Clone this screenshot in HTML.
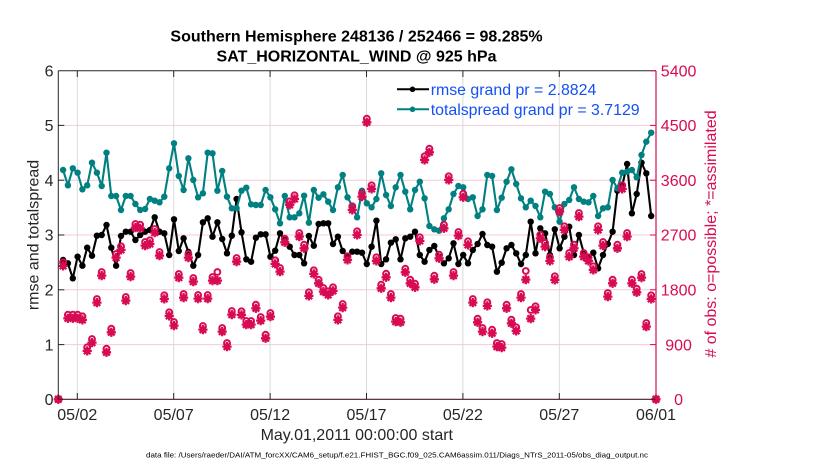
<!DOCTYPE html>
<html>
<head>
<meta charset="utf-8">
<style>
  html, body { margin: 0; padding: 0; background: #ffffff; }
  body { width: 830px; height: 470px; overflow: hidden; }
  svg { display: block; font-family: "Liberation Sans", Arial, Helvetica, sans-serif; }
</style>
</head>
<body>
<svg width="830" height="470" viewBox="0 0 830 470" xmlns="http://www.w3.org/2000/svg">
  <defs>
    <marker id="mb" viewBox="-5 -5 10 10" refX="0" refY="0" markerWidth="10" markerHeight="10" markerUnits="userSpaceOnUse" overflow="visible">
      <circle r="3.2" fill="#000000"/>
    </marker>
    <marker id="mt" viewBox="-5 -5 10 10" refX="0" refY="0" markerWidth="10" markerHeight="10" markerUnits="userSpaceOnUse" overflow="visible">
      <circle r="3.2" fill="#008080"/>
    </marker>
    <marker id="mo" viewBox="-5 -5 10 10" refX="0" refY="0" markerWidth="10" markerHeight="10" markerUnits="userSpaceOnUse" overflow="visible">
      <circle r="2.9" fill="none" stroke="#d70a53" stroke-width="2"/>
    </marker>
    <marker id="ms" viewBox="-6 -6 12 12" refX="0" refY="0" markerWidth="12" markerHeight="12" markerUnits="userSpaceOnUse" overflow="visible">
      <path d="M-4.6,0H4.6M0,-4.6V4.6M-3.3,-3.3L3.3,3.3M-3.3,3.3L3.3,-3.3" stroke="#d70a53" stroke-width="2.3" fill="none"/>
      <circle r="2" fill="#d70a53"/>
    </marker>
  </defs>

  <!-- Title -->
  <text x="356.5" y="41.7" font-size="16" font-weight="bold" text-anchor="middle" fill="#000">Southern Hemisphere 248136 / 252466 = 98.285%</text>
  <text x="356.5" y="61.7" font-size="16" font-weight="bold" text-anchor="middle" fill="#000">SAT_HORIZONTAL_WIND @ 925 hPa</text>

  <!-- grid: vertical -->
  <g stroke="#dadada" stroke-width="1">
    <line x1="77.3" y1="70.7" x2="77.3" y2="399.3"/>
    <line x1="173.7" y1="70.7" x2="173.7" y2="399.3"/>
    <line x1="270.1" y1="70.7" x2="270.1" y2="399.3"/>
    <line x1="366.5" y1="70.7" x2="366.5" y2="399.3"/>
    <line x1="462.9" y1="70.7" x2="462.9" y2="399.3"/>
    <line x1="559.3" y1="70.7" x2="559.3" y2="399.3"/>
  </g>
  <!-- grid: horizontal -->
  <g stroke="#f4cbd8" stroke-width="1">
    <line x1="58.3" y1="125.4" x2="656" y2="125.4"/>
    <line x1="58.3" y1="180.2" x2="656" y2="180.2"/>
    <line x1="58.3" y1="235.0" x2="656" y2="235.0"/>
    <line x1="58.3" y1="289.8" x2="656" y2="289.8"/>
    <line x1="58.3" y1="344.6" x2="656" y2="344.6"/>
  </g>

  <!-- rmse -->
  <polyline fill="none" stroke="#000000" stroke-width="2.1" stroke-linejoin="round" marker-start="url(#mb)" marker-mid="url(#mb)" marker-end="url(#mb)"
    points="63.1,260 67.9,263.3 72.8,278.3 77.6,256.7 82.4,265.7 87.2,247.7 92.0,255.7 96.9,235.7 101.7,235 106.5,225 111.3,247.7 116.1,265.7 121.0,236 125.8,231.7 130.6,231.7 135.4,240 140.2,235 145.1,231.7 149.9,230 154.7,217.3 159.5,231.7 164.3,233.3 169.2,255 174.0,219.3 178.8,251 183.6,238.3 188.4,252 193.3,265.7 198.1,255 202.9,222.3 207.7,218.3 212.5,236.7 217.4,222.3 222.2,239 227.0,253.3 231.8,235.7 236.6,199 241.5,232.3 246.3,259.3 251.1,261.7 255.9,237.7 260.7,234.3 265.6,234.3 270.4,256.7 275.2,250.7 280.0,233.3 284.8,240 289.7,246.7 294.5,255 299.3,255 304.1,263.3 308.9,236 313.8,245.7 318.6,224 323.4,223.3 328.2,223.3 333.0,244 337.9,236.7 342.7,251 347.5,256 352.3,251.7 357.1,251.7 362.0,252.7 366.8,264 371.6,246.7 376.4,220.7 381.2,264 386.1,259.3 390.9,242.7 395.7,239.3 400.5,259.3 405.3,238.3 410.2,236.7 415.0,231.7 419.8,255 424.6,261.7 429.4,250 434.3,246 439.1,256.7 443.9,263.3 448.7,258.3 453.5,243.3 458.4,264 463.2,255 468.0,263.3 472.8,250 477.6,244 482.5,234 487.3,245 492.1,246.7 496.9,271.7 501.7,262.7 506.6,248.3 511.4,245 516.2,253.3 521.0,264 525.8,255 530.7,221.7 535.5,253.3 540.3,228.3 545.1,233.3 549.9,255 554.8,229.3 559.6,248.3 564.4,236.7 569.2,226.7 574.0,255 578.9,235 583.7,252.7 588.5,257.3 593.3,252.7 598.1,268.3 603.0,255 607.8,244 612.6,231.7 617.4,190.7 622.2,186 627.1,164 631.9,213.3 636.7,194 641.5,162.7 646.3,173.3 651.2,216"/>

  <!-- totalspread -->
  <polyline fill="none" stroke="#008080" stroke-width="2.1" stroke-linejoin="round" marker-start="url(#mt)" marker-mid="url(#mt)" marker-end="url(#mt)"
    points="63.1,170 67.9,185.3 72.8,168.3 77.6,172.7 82.4,189.3 87.2,185.3 92.0,162.7 96.9,172.7 101.7,186 106.5,152.7 111.3,196 116.1,196 121.0,210 125.8,196 130.6,196 135.4,204 140.2,210 145.1,209 149.9,199 154.7,200.7 159.5,202.3 164.3,196.7 169.2,168.3 174.0,143.3 178.8,176 183.6,190 188.4,158.3 193.3,180 198.1,197.3 202.9,193.3 207.7,152.7 212.5,153.3 217.4,190.7 222.2,171 227.0,196.7 231.8,208.3 236.6,208.3 241.5,190.7 246.3,187.7 251.1,204.3 255.9,205 260.7,205 265.6,190 270.4,197.3 275.2,209.3 280.0,223.3 284.8,196 289.7,217.3 294.5,217.3 299.3,213.3 304.1,195.7 308.9,222.7 313.8,190 318.6,197.7 323.4,194.3 328.2,201.7 333.0,210 337.9,187.3 342.7,175 347.5,197.3 352.3,206 357.1,217.3 362.0,190.7 366.8,203.3 371.6,207.3 376.4,199 381.2,173.3 386.1,195 390.9,206 395.7,187.3 400.5,175 405.3,191.7 410.2,209.3 415.0,190 419.8,181.7 424.6,198.3 429.4,226 434.3,229.3 439.1,230.7 443.9,218.3 448.7,209.3 453.5,194 458.4,186 463.2,187.3 468.0,199 472.8,197.3 477.6,216 482.5,209.3 487.3,175 492.1,176 496.9,210 501.7,197.7 506.6,181.7 511.4,169.3 516.2,184 521.0,198.3 525.8,207.3 530.7,200.7 535.5,206 540.3,217.3 545.1,191.7 549.9,194 554.8,207.3 559.6,221.7 564.4,204 569.2,200 574.0,187.3 578.9,199 583.7,201.7 588.5,202.3 593.3,196 598.1,216 603.0,208.3 607.8,207.3 612.6,180 617.4,188.3 622.2,172.7 627.1,171.7 631.9,170 636.7,177.3 641.5,155 646.3,141.7 651.2,132.7"/>

  <!-- obs counts: possible (o) -->
  <polyline fill="none" stroke="none" transform="translate(0,-2)" marker-start="url(#mo)" marker-mid="url(#mo)" marker-end="url(#mo)"
    points="58.3,401.3 63.1,264.3 67.9,316.7 72.8,316.7 77.6,316.7 82.4,318.3 87.2,349.3 92.0,341 96.9,301 101.7,274 106.5,350.7 111.3,330.7 116.1,256 121.0,248.3 125.8,299 130.6,275 135.4,226 140.2,226.7 145.1,244 149.9,242.3 154.7,231 159.5,254 164.3,297.3 169.2,314.3 174.0,324 178.8,276 183.6,296 188.4,256 193.3,280 198.1,297 202.9,328 207.7,297 212.5,279 217.4,274 222.2,330 227.0,345 231.8,313 236.6,260 241.5,313.3 246.3,323 251.1,323 255.9,306.7 260.7,319 265.6,336.7 270.4,315 275.2,262.3 280.0,270 284.8,240.7 289.7,203.3 294.5,197.3 299.3,235 304.1,246.7 308.9,294.3 313.8,272.3 318.6,281.7 323.4,290 328.2,293.3 333.0,289.3 337.9,318.3 342.7,306 347.5,258.3 352.3,208.3 357.1,233.3 362.0,195 366.8,120.7 371.6,187.3 376.4,259.3 381.2,286.7 386.1,275.7 390.9,296 395.7,320 400.5,320.7 405.3,270.7 410.2,281.7 415.0,285.7 419.8,239.3 424.6,158.3 429.4,150.7 434.3,277.7 439.1,256.7 443.9,226.7 448.7,178.3 453.5,274 458.4,234 463.2,195.7 468.0,243.3 472.8,301 477.6,320.7 482.5,330 487.3,304.3 492.1,331.7 496.9,345 501.7,346 506.6,306.7 511.4,321.7 516.2,329.3 521.0,296 525.8,273 530.7,312 535.5,308.3 540.3,236.7 545.1,245 549.9,259.3 554.8,278.3 559.6,210 564.4,228.3 569.2,255 574.0,246.7 578.9,215 583.7,255 588.5,259.3 593.3,268.3 598.1,228.3 603.0,244 607.8,295 612.6,281.7 617.4,246.7 622.2,187.3 627.1,235 631.9,281.7 636.7,290.7 641.5,276 646.3,325 651.2,297.3 656,401.3"/>

  <!-- obs counts: assimilated (*) -->
  <polyline fill="none" stroke="none" transform="translate(0,1.6)" marker-start="url(#ms)" marker-mid="url(#ms)" marker-end="url(#ms)"
    points="58.3,397.7 63.1,264.3 67.9,316.7 72.8,316.7 77.6,316.7 82.4,318.3 87.2,349.3 92.0,341 96.9,301 101.7,274 106.5,350.7 111.3,330.7 116.1,256 121.0,248.3 125.8,299 130.6,275 135.4,226 140.2,226.7 145.1,244 149.9,242.3 154.7,231 159.5,254 164.3,297.3 169.2,314.3 174.0,324 178.8,276 183.6,296 188.4,256 193.3,280 198.1,297 202.9,328 207.7,297 212.5,279 217.4,279 222.2,330 227.0,345 231.8,313 236.6,260 241.5,313.3 246.3,323 251.1,323 255.9,306.7 260.7,319 265.6,336.7 270.4,315 275.2,262.3 280.0,270 284.8,240.7 289.7,203.3 294.5,197.3 299.3,235 304.1,246.7 308.9,294.3 313.8,272.3 318.6,281.7 323.4,290 328.2,293.3 333.0,289.3 337.9,318.3 342.7,306 347.5,258.3 352.3,208.3 357.1,233.3 362.0,195 366.8,120.7 371.6,187.3 376.4,259.3 381.2,286.7 386.1,275.7 390.9,296 395.7,320 400.5,320.7 405.3,270.7 410.2,281.7 415.0,285.7 419.8,239.3 424.6,158.3 429.4,150.7 434.3,277.7 439.1,256.7 443.9,226.7 448.7,178.3 453.5,274 458.4,234 463.2,195.7 468.0,243.3 472.8,301 477.6,320.7 482.5,330 487.3,304.3 492.1,331.7 496.9,345 501.7,346 506.6,306.7 511.4,321.7 516.2,329.3 521.0,296 525.8,278 530.7,317 535.5,308.3 540.3,236.7 545.1,245 549.9,259.3 554.8,278.3 559.6,210 564.4,228.3 569.2,255 574.0,246.7 578.9,215 583.7,255 588.5,259.3 593.3,268.3 598.1,228.3 603.0,244 607.8,295 612.6,281.7 617.4,246.7 622.2,187.3 627.1,235 631.9,281.7 636.7,290.7 641.5,276 646.3,325 651.2,297.3 656,397.7"/>

  <!-- axes lines -->
  <line x1="58.3" y1="70.7" x2="656" y2="70.7" stroke="#262626" stroke-width="1"/>
  <line x1="58.3" y1="70.7" x2="58.3" y2="399.3" stroke="#262626" stroke-width="1"/>
  <line x1="58.3" y1="399.3" x2="656" y2="399.3" stroke="#4a1a2a" stroke-width="1.2"/>
  <line x1="656" y1="70.7" x2="656" y2="399.8" stroke="#d70a53" stroke-width="1.2"/>

  <!-- left ticks -->
  <g stroke="#262626" stroke-width="1">
    <line x1="58.3" y1="125.4" x2="64.3" y2="125.4"/>
    <line x1="58.3" y1="180.2" x2="64.3" y2="180.2"/>
    <line x1="58.3" y1="235.0" x2="64.3" y2="235.0"/>
    <line x1="58.3" y1="289.8" x2="64.3" y2="289.8"/>
    <line x1="58.3" y1="344.6" x2="64.3" y2="344.6"/>
    <!-- bottom / top ticks -->
    <line x1="77.3" y1="399.3" x2="77.3" y2="393"/>
    <line x1="173.7" y1="399.3" x2="173.7" y2="393"/>
    <line x1="270.1" y1="399.3" x2="270.1" y2="393"/>
    <line x1="366.5" y1="399.3" x2="366.5" y2="393"/>
    <line x1="462.9" y1="399.3" x2="462.9" y2="393"/>
    <line x1="559.3" y1="399.3" x2="559.3" y2="393"/>
    <line x1="77.3" y1="70.7" x2="77.3" y2="77"/>
    <line x1="173.7" y1="70.7" x2="173.7" y2="77"/>
    <line x1="270.1" y1="70.7" x2="270.1" y2="77"/>
    <line x1="366.5" y1="70.7" x2="366.5" y2="77"/>
    <line x1="462.9" y1="70.7" x2="462.9" y2="77"/>
    <line x1="559.3" y1="70.7" x2="559.3" y2="77"/>
  </g>
  <!-- right ticks -->
  <g stroke="#d70a53" stroke-width="1">
    <line x1="650" y1="70.7" x2="656" y2="70.7"/>
    <line x1="650" y1="125.4" x2="656" y2="125.4"/>
    <line x1="650" y1="180.2" x2="656" y2="180.2"/>
    <line x1="650" y1="235.0" x2="656" y2="235.0"/>
    <line x1="650" y1="289.8" x2="656" y2="289.8"/>
    <line x1="650" y1="344.6" x2="656" y2="344.6"/>
  </g>

  <!-- left tick labels -->
  <g font-size="16" fill="#262626" text-anchor="end">
    <text x="53.5" y="76.4">6</text>
    <text x="53.5" y="131.1">5</text>
    <text x="53.5" y="185.9">4</text>
    <text x="53.5" y="240.7">3</text>
    <text x="53.5" y="295.5">2</text>
    <text x="53.5" y="350.3">1</text>
    <text x="53.5" y="405.0">0</text>
  </g>
  <!-- right tick labels -->
  <g font-size="16" fill="#d70a53" text-anchor="middle">
    <text x="678.6" y="76.4">5400</text>
    <text x="678.6" y="131.1">4500</text>
    <text x="678.6" y="185.9">3600</text>
    <text x="678.6" y="240.7">2700</text>
    <text x="678.6" y="295.5">1800</text>
    <text x="678.6" y="350.3">900</text>
    <text x="678.6" y="405.0">0</text>
  </g>
  <!-- bottom tick labels -->
  <g font-size="16" fill="#262626" text-anchor="middle">
    <text x="77.3" y="420">05/02</text>
    <text x="173.7" y="420">05/07</text>
    <text x="270.1" y="420">05/12</text>
    <text x="366.5" y="420">05/17</text>
    <text x="462.9" y="420">05/22</text>
    <text x="559.3" y="420">05/27</text>
    <text x="656" y="420">06/01</text>
  </g>

  <!-- axis labels -->
  <text x="356.8" y="440" font-size="16" fill="#262626" text-anchor="middle">May.01,2011 00:00:00 start</text>
  <text transform="translate(38.5,235) rotate(-90)" font-size="16" fill="#262626" text-anchor="middle">rmse and totalspread</text>
  <text transform="translate(716,234) rotate(-90)" font-size="16" fill="#d70a53" text-anchor="middle"># of obs: o=possible; *=assimilated</text>

  <!-- data file footnote -->
  <text x="146" y="457.5" font-size="7.3" fill="#000" textLength="502" lengthAdjust="spacingAndGlyphs">data file: /Users/raeder/DAI/ATM_forcXX/CAM6_setup/f.e21.FHIST_BGC.f09_025.CAM6assim.011/Diags_NTrS_2011-05/obs_diag_output.nc</text>

  <!-- legend -->
  <line x1="397" y1="89.3" x2="429" y2="89.3" stroke="#000" stroke-width="2"/>
  <circle cx="412.5" cy="89.3" r="2.8" fill="#000"/>
  <text x="430.7" y="95" font-size="15.9" fill="#1450f5">rmse grand pr = 2.8824</text>
  <line x1="397" y1="109.3" x2="429" y2="109.3" stroke="#008080" stroke-width="2"/>
  <circle cx="412.5" cy="109.3" r="2.8" fill="#008080"/>
  <text x="430.7" y="115" font-size="15.9" fill="#1450f5">totalspread grand pr = 3.7129</text>
</svg>
</body>
</html>
